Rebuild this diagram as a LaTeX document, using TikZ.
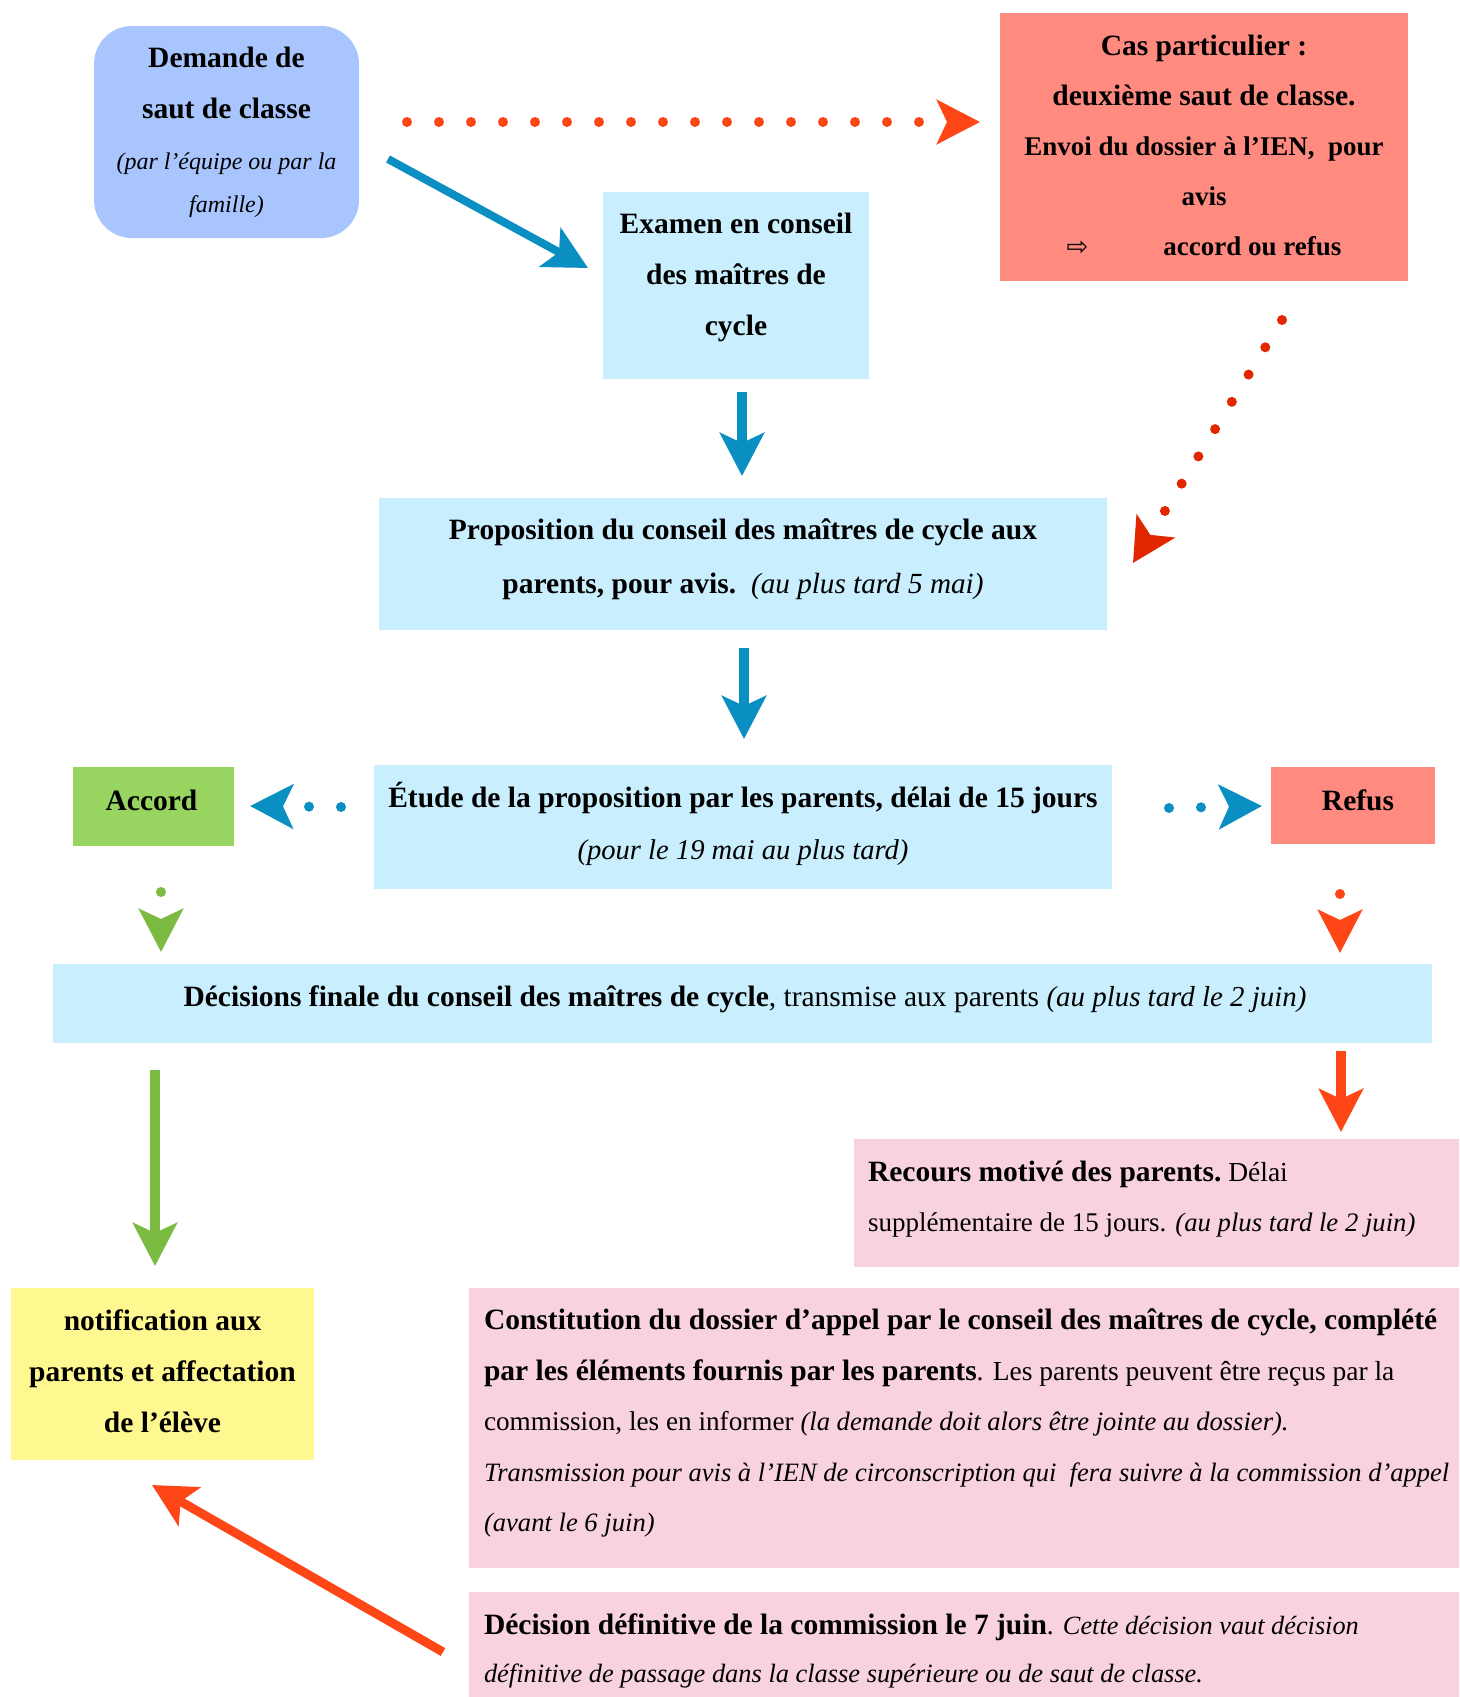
\documentclass[tikz,border=0pt]{standalone}
\usepackage{fontspec}
\setmainfont{Liberation Serif}
\newfontfamily\symfont{DejaVu Sans}
\usetikzlibrary{arrows.meta}
\definecolor{demblue}{HTML}{A8C5FD}
\definecolor{lcyan}{HTML}{C9EEFD}
\definecolor{salmon}{HTML}{FF8B80}
\definecolor{accgreen}{HTML}{97D460}
\definecolor{lpink}{HTML}{F8D2DF}
\definecolor{lyellow}{HTML}{FFF78F}
\definecolor{arrblue}{HTML}{0A8FC2}
\definecolor{arrorange}{HTML}{FF4617}
\definecolor{arrred}{HTML}{E12600}
\definecolor{arrgreen}{HTML}{7BBB41}
% regular and italic at a given size
\newcommand\rgs[1]{\mdseries\upshape\fontsize{#1}{51}\selectfont}
\newcommand\its[1]{\mdseries\itshape\fontsize{#1}{51}\selectfont}
\tikzset{
  box/.style={outer sep=0pt, inner sep=0pt},
  txt/.style={inner sep=0pt, outer sep=0pt, align=flush center,
    font=\fontsize{29.5}{51}\selectfont\bfseries},
  txtl/.style={txt, align=flush left, anchor=west},
  fatarrow/.style={line width=10pt, -{Stealth[length=43pt,width=44pt,inset=10pt]}},
  dotarrow/.style={line width=10pt, line cap=round, dash pattern=on 0pt off 32pt,
    -{Stealth[length=43pt,width=44pt,inset=10pt]}}
}
\begin{document}
\begin{tikzpicture}[x=1pt,y=-1pt]
\useasboundingbox (0,0) rectangle (1459,1697);
\fill[white] (0,0) rectangle (1459,1697);

% boxes
\node[box, fill=demblue, rounded corners=38pt, minimum width=265pt, minimum height=212pt] (demande) at (226.5,132) {};
\node[box, fill=lcyan, minimum width=266pt, minimum height=187pt] (examen) at (736,285.5) {};
\node[box, fill=salmon, minimum width=408pt, minimum height=268pt] (cas) at (1204,147) {};
\node[box, fill=lcyan, minimum width=728pt, minimum height=132pt] (prop) at (743,564) {};
\node[box, fill=lcyan, minimum width=738pt, minimum height=124pt] (etude) at (743,827) {};
\node[box, fill=accgreen, minimum width=161pt, minimum height=79pt] (accord) at (153.5,806.5) {};
\node[box, fill=salmon, minimum width=164pt, minimum height=77pt] (refus) at (1353,805.5) {};
\node[box, fill=lcyan, minimum width=1379pt, minimum height=79pt] (decis) at (742.5,1003.5) {};
\node[box, fill=lpink, minimum width=605pt, minimum height=128pt] (recours) at (1156.5,1203) {};
\node[box, fill=lyellow, minimum width=303pt, minimum height=172pt] (notif) at (162.5,1374) {};
\node[box, fill=lpink, minimum width=990pt, minimum height=280pt] (constit) at (964,1428) {};
\node[box, fill=lpink, minimum width=990pt, minimum height=105pt] (defin) at (964,1644.5) {};

% texts
\node[txt, text width=265pt] (demandetxt) at (226.5,132)
  {Demande de\\saut de classe\\{\mdseries\itshape\fontsize{24}{51}\selectfont (par l’équipe ou par la\\[-8pt]famille)}};
\node[txt, text width=266pt] (examentxt) at (736,277)
  {Examen en conseil\\des maîtres de\\cycle};
\node[txt, text width=420pt, font=\fontsize{29.5}{50}\selectfont\bfseries] (castxt) at (1204,145)
  {Cas particulier :\\deuxième saut de classe.\\{\fontsize{27}{50}\selectfont Envoi du dossier à l’IEN,\ \ pour}\\{\fontsize{27}{50}\selectfont avis}\\{\symfont\mdseries\fontsize{26}{50}\selectfont ⇨}\hspace{75pt}{\fontsize{27}{50}\selectfont accord ou refus}};
\node[txt, text width=740pt, font=\fontsize{29.5}{54}\selectfont\bfseries] (proptxt) at (743,559)
  {Proposition du conseil des maîtres de cycle aux\\parents, pour avis.\ \ {\its{29.2}(au plus tard 5 mai)}};
\node[txt, text width=760pt, font=\fontsize{29.5}{52}\selectfont\bfseries] (etudetxt) at (743,824)
  {Étude de la proposition par les parents, délai de 15 jours\\{\its{28.6}(pour le 19 mai au plus tard)}};
\node[txt, text width=161pt] (accordtxt) at (151.5,800) {Accord};
\node[txt, text width=164pt] (refustxt) at (1358,800) {Refus};
\node[txt, text width=1379pt] (decistxt) at (745,999.5)
  {Décisions finale du conseil des maîtres de cycle{\rgs{29.5}, transmise aux parents }{\its{28.9}(au plus tard le 2 juin)}};
\node[txtl, text width=600pt, font=\fontsize{29.5}{50}\selectfont\bfseries] (recourstxt) at (868,1199)
  {Recours motivé des parents.{\rgs{27.5}\ Délai}\\{\rgs{27}supplémentaire de 15 jours. }{\its{26.7}(au plus tard le 2 juin)}};
\node[txt, text width=303pt] (notiftxt) at (162.5,1371)
  {notification aux\\parents et affectation\\de l’élève};
\node[txtl, text width=1000pt, font=\fontsize{29.5}{50.5}\selectfont\bfseries] (constittxt) at (484,1423)
  {Constitution du dossier d’appel par le conseil des maîtres de cycle, complété\\par les éléments fournis par les parents{\rgs{27.5}. Les parents peuvent être reçus par la}\\{\rgs{27.2}commission, les en informer }{\its{26.6}(la demande doit alors être jointe au dossier).}\\{\its{26.5}Transmission pour avis à l’IEN de circonscription qui\ \ fera suivre à la commission d’appel}\\{\its{26.6}(avant le 6 juin)}};
\node[txtl, text width=1000pt, font=\fontsize{29.5}{48}\selectfont\bfseries] (defintxt) at (484,1651)
  {Décision définitive de la commission le 7 juin{\rgs{27.5}. }{\its{26.3}Cette décision vaut décision}\\{\its{26.4}définitive de passage dans la classe supérieure ou de saut de classe.}};

% connector end points
\coordinate (h1) at (407,122);   \coordinate (h2) at (980,122);
\coordinate (d1) at (388,159);   \coordinate (d2) at (588,268);
\coordinate (v1) at (742,392);   \coordinate (v2) at (742,476);
\coordinate (r1) at (1282,320);  \coordinate (r2) at (1133,563);
\coordinate (p1) at (744,648);   \coordinate (p2) at (744,739);
\coordinate (l1) at (341,807);   \coordinate (l2) at (250,806);
\coordinate (q1) at (1169,808);  \coordinate (q2) at (1262,806);
\coordinate (g1) at (161,892);   \coordinate (g2) at (161,952);
\coordinate (o1) at (1340,894);  \coordinate (o2) at (1340,953);
\coordinate (G1) at (155,1070);  \coordinate (G2) at (155,1266);
\coordinate (R1) at (1341,1051); \coordinate (R2) at (1341,1132);
\coordinate (x1) at (443,1652);  \coordinate (x2) at (152,1485);

% connectors
\draw[dotarrow, arrorange] (h1) -- (h2);
\draw[fatarrow, arrblue, line width=8pt] (d1) -- (d2);
\draw[fatarrow, arrblue] (v1) -- (v2);
\draw[dotarrow, arrred] (r1) -- (r2);
\draw[fatarrow, arrblue] (p1) -- (p2);
\draw[dotarrow, arrblue] (l1) -- (l2);
\draw[dotarrow, arrblue] (q1) -- (q2);
\draw[dotarrow, arrgreen] (g1) -- (g2);
\draw[dotarrow, arrorange] (o1) -- (o2);
\draw[fatarrow, arrgreen] (G1) -- (G2);
\draw[fatarrow, arrorange] (R1) -- (R2);
\draw[fatarrow, arrorange, line width=9pt] (x1) -- (x2);
\end{tikzpicture}
\end{document}
